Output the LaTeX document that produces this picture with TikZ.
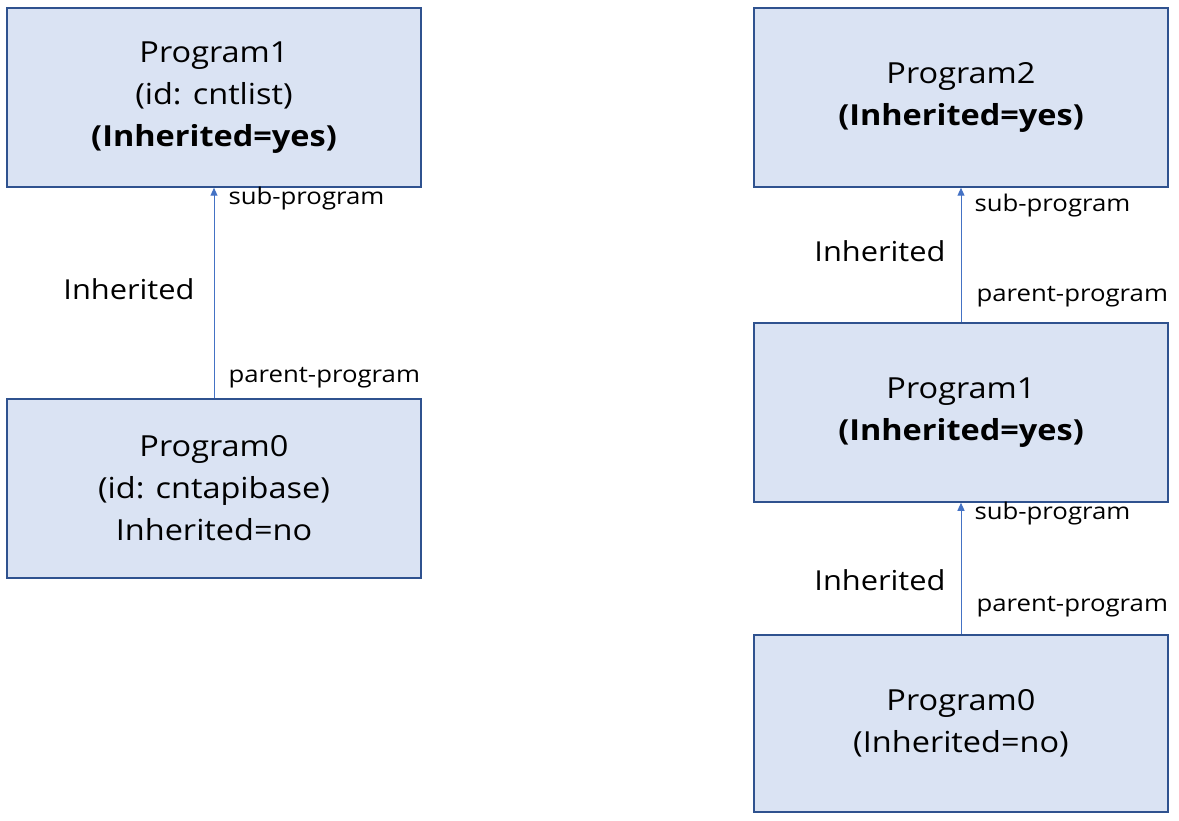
\documentclass[tikz,border=0pt]{standalone}
\usepackage{fontspec}
\setmainfont{Open Sans}[FakeStretch=1.12]
\usetikzlibrary{arrows.meta,positioning}
\definecolor{boxfill}{HTML}{DAE3F3}
\definecolor{boxline}{HTML}{2F528F}
\definecolor{linkline}{HTML}{4472C4}

\begin{document}
\begin{tikzpicture}[
    x=1pt, y=-1pt, % pixel-like units
    prog/.style={draw=boxline, fill=boxfill, line width=1.5pt,
        minimum width=414pt, minimum height=179pt, align=center,
        inner sep=0pt, font=\fontsize{29}{42}\selectfont},
    link/.style={-{Triangle[length=8pt,width=7pt]}, draw=linkline, line width=1pt},
    tag/.style={anchor=west, inner sep=0pt, font=\fontsize{23}{26}\selectfont},
    side/.style={anchor=east, inner sep=0pt, font=\fontsize{27.5}{32}\selectfont}
]
\useasboundingbox (0,0) rectangle (1179,821);

% Left chain
\node[prog] (L1) at (214,97.5) {Program1\\(id: cntlist)\\\textbf{(Inherited=yes)}};
\node[prog, below=210.5pt of L1] (L0) {Program0\\(id: cntapibase)\\Inherited=no};

% Right chain
\node[prog] (R2) at (961,97.5) {Program2\\\textbf{(Inherited=yes)}};
\node[prog, below=134.5pt of R2] (R1) {Program1\\\textbf{(Inherited=yes)}};
\node[prog, minimum height=177pt, below=131.5pt of R1] (R0) {Program0\\(Inherited=no)};

% Links with labels
\draw[link] (L0) -- node[tag, pos=0.95, xshift=14pt] {sub-program}
    node[tag, pos=0.10, xshift=14pt] {parent-program}
    node[side, pos=0.52, xshift=-19pt] {Inherited} (L1);
\draw[link] (R1) -- node[tag, pos=0.87, xshift=13pt] {sub-program}
    node[tag, pos=0.19, xshift=15pt] {parent-program}
    node[side, pos=0.53, xshift=-15pt] {Inherited} (R2);
\draw[link] (R0) -- node[tag, pos=0.92, xshift=13pt] {sub-program}
    node[tag, pos=0.21, xshift=15pt] {parent-program}
    node[side, pos=0.41, xshift=-15pt] {Inherited} (R1);

\end{tikzpicture}
\end{document}
